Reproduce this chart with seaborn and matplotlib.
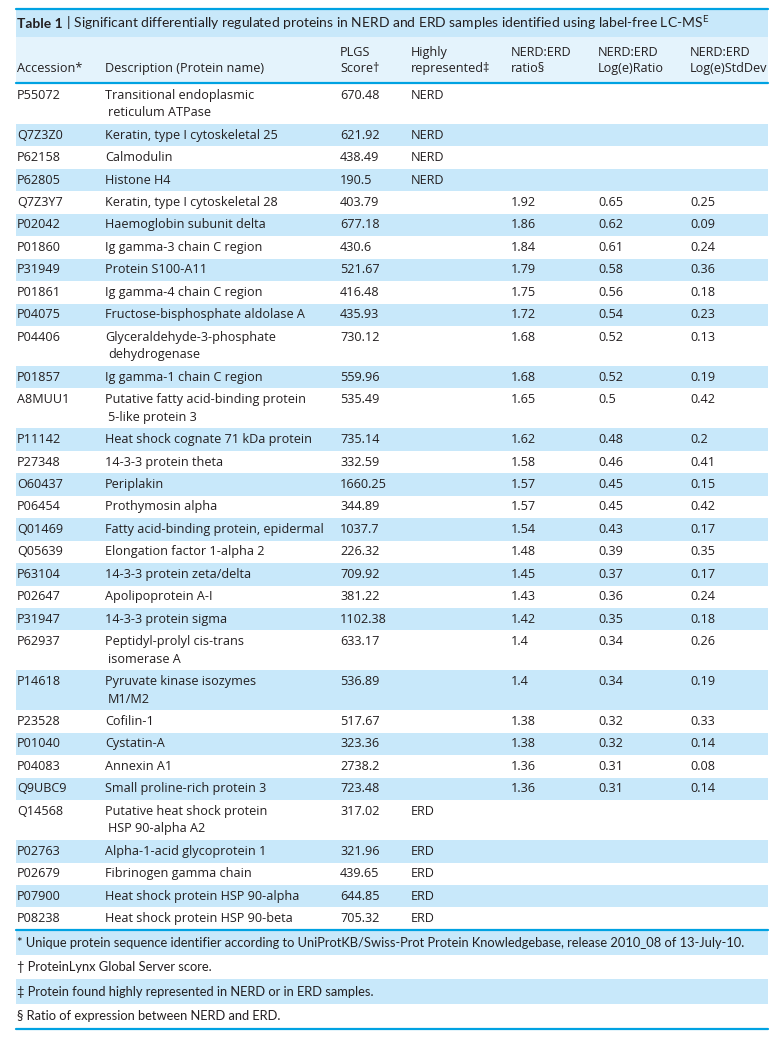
import seaborn as sns
import matplotlib.pyplot as plt

# table content
accession = [
    "P55072", "Q7Z3Z0", "P62158", "P62805", "Q7Z3Y7", "P02042", "P01860",
    "P31949", "P01861", "P04075", "P04406", "P01857", "A8MUU1", "P11142",
    "P27348", "O60437", "P06454", "Q01469", "Q05639", "P63104", "P02647",
    "P31947", "P62937", "P14618", "P23528", "P01040", "P04083", "Q9UBC9",
    "Q14568", "P02763", "P02679", "P07900", "P08238",
]
description = [
    "Transitional endoplasmic\nreticulum ATPase",
    "Keratin, type I cytoskeletal 25",
    "Calmodulin",
    "Histone H4",
    "Keratin, type I cytoskeletal 28",
    "Haemoglobin subunit delta",
    "Ig gamma-3 chain C region",
    "Protein S100-A11",
    "Ig gamma-4 chain C region",
    "Fructose-bisphosphate aldolase A",
    "Glyceraldehyde-3-phosphate\ndehydrogenase",
    "Ig gamma-1 chain C region",
    "Putative fatty acid-binding protein\n5-like protein 3",
    "Heat shock cognate 71 kDa protein",
    "14-3-3 protein theta",
    "Periplakin",
    "Prothymosin alpha",
    "Fatty acid-binding protein, epidermal",
    "Elongation factor 1-alpha 2",
    "14-3-3 protein zeta/delta",
    "Apolipoprotein A-I",
    "14-3-3 protein sigma",
    "Peptidyl-prolyl cis-trans\nisomerase A",
    "Pyruvate kinase isozymes\nM1/M2",
    "Cofilin-1",
    "Cystatin-A",
    "Annexin A1",
    "Small proline-rich protein 3",
    "Putative heat shock protein\nHSP 90-alpha A2",
    "Alpha-1-acid glycoprotein 1",
    "Fibrinogen gamma chain",
    "Heat shock protein HSP 90-alpha",
    "Heat shock protein HSP 90-beta",
]
plgs_score = [
    670.48, 621.92, 438.49, 190.5, 403.79, 677.18, 430.6, 521.67, 416.48,
    435.93, 730.12, 559.96, 535.49, 735.14, 332.59, 1660.25, 344.89, 1037.7,
    226.32, 709.92, 381.22, 1102.38, 633.17, 536.89, 517.67, 323.36, 2738.2,
    723.48, 317.02, 321.96, 439.65, 644.85, 705.32,
]
highly_rep = ["NERD"] * 4 + [None] * 24 + ["ERD"] * 5
ratio = [None] * 4 + [
    1.92, 1.86, 1.84, 1.79, 1.75, 1.72, 1.68, 1.68, 1.65, 1.62, 1.58, 1.57,
    1.57, 1.54, 1.48, 1.45, 1.43, 1.42, 1.4, 1.4, 1.38, 1.38, 1.36, 1.36,
] + [None] * 5
log_ratio = [None] * 4 + [
    0.65, 0.62, 0.61, 0.58, 0.56, 0.54, 0.52, 0.52, 0.5, 0.48, 0.46, 0.45,
    0.45, 0.43, 0.39, 0.37, 0.36, 0.35, 0.34, 0.34, 0.32, 0.32, 0.31, 0.31,
] + [None] * 5
log_std = [None] * 4 + [
    0.25, 0.09, 0.24, 0.36, 0.18, 0.23, 0.13, 0.19, 0.42, 0.2, 0.41, 0.15,
    0.42, 0.17, 0.35, 0.17, 0.24, 0.18, 0.26, 0.19, 0.33, 0.14, 0.08, 0.14,
] + [None] * 5

headers = [
    ("", "Accession*"),
    ("", "Description (Protein name)"),
    ("PLGS", "Score\u2020"),
    ("Highly", "represented\u2021"),
    ("NERD:ERD", "ratio\u00a7"),
    ("NERD:ERD", "Log(e)Ratio"),
    ("NERD:ERD", "Log(e)StdDev"),
]
footnotes = [
    "* Unique protein sequence identifier according to UniProtKB/Swiss-Prot "
    "Protein Knowledgebase, release 2010_08 of 13-July-10.",
    "\u2020 ProteinLynx Global Server score.",
    "\u2021 Protein found highly represented in NERD or in ERD samples.",
    "\u00a7 Ratio of expression between NERD and ERD.",
]

sns.set_theme(style="white")
plt.rcParams['font.family'] = ['Open Sans', 'DejaVu Sans']
plt.rcParams['mathtext.fontset'] = 'custom'
plt.rcParams['mathtext.rm'] = 'Lato'

BLUE = "#c8e8fa"
PALE = "#e4f3fc"
LINE = "#00a2e2"
INK = "#231f20"
FS = 9.1
NOTE_FONT = ['Lato', 'DejaVu Sans']

fig = plt.figure(figsize=(7.83, 10.43), dpi=100)
ax = fig.add_axes([0, 0, 1, 1])
ax.set_xlim(0, 783)
ax.set_ylim(1043, 0)
ax.axis('off')

left, right = 16, 768
col_x = [17, 105, 340, 411, 511, 598, 690]
single_h, line_gap = 22.45, 17.5


def fmt(v):
    return "" if v is None else str(v)


# title + header bands
ax.fill_between([left, right], 10, 37, color=BLUE, lw=0)
ax.fill_between([left, right], 37, 82, color=PALE, lw=0)
t1 = ax.text(col_x[0], 28.5, "Table 1", fontsize=10.0, fontweight='bold',
             va='baseline', color=INK, family=NOTE_FONT)
renderer = fig.canvas.get_renderer()
bb = t1.get_window_extent(renderer).transformed(ax.transData.inverted())
ax.text(bb.x1, 28.5, " | Significant differentially regulated proteins in "
        "NERD and ERD samples identified using label-free LC-MS$^{\\mathrm{E}}$",
        fontsize=10.0, va='baseline', color=INK, family=NOTE_FONT)
for x, (h1, h2) in zip(col_x, headers):
    ax.text(x, 52.5, h1, fontsize=FS, va='center', color=INK)
    ax.text(x, 68.5, h2, fontsize=FS, va='center', color=INK)
ax.plot([left, right], [9, 9], color=LINE, lw=1.6)
ax.plot([left, right], [83, 83], color=LINE, lw=1.6)

# body rows
y = 84.0
for i, desc in enumerate(description):
    lines = desc.split("\n")
    h = single_h + line_gap * (len(lines) - 1)
    if i % 2 == 1:
        ax.fill_between([left, right], y, y + h, color=BLUE, lw=0)
    yc = y + single_h / 2
    cells = [accession[i], lines[0], fmt(plgs_score[i]), fmt(highly_rep[i]),
             fmt(ratio[i]), fmt(log_ratio[i]), fmt(log_std[i])]
    for x, s in zip(col_x, cells):
        ax.text(x, yc, s, fontsize=FS, va='center', color=INK)
    for k, extra in enumerate(lines[1:], start=1):
        ax.text(col_x[1] + 3, yc + line_gap * k, extra, fontsize=FS,
                va='center', color=INK)
    y += h

ax.plot([left, right], [y, y], color=LINE, lw=1.6)

# footnotes
fy = y + 1
fh = 24.3
for j, note in enumerate(footnotes):
    if j % 2 == 0:
        ax.fill_between([left, right], fy, fy + fh, color=BLUE, lw=0)
    ax.text(col_x[0], fy + fh / 2, note, fontsize=9.3, va='center',
            color=INK, family=NOTE_FONT)
    fy += fh
ax.plot([left, right], [fy + 1, fy + 1], color=LINE, lw=1.6)

fig.savefig("out.png", dpi=100)
